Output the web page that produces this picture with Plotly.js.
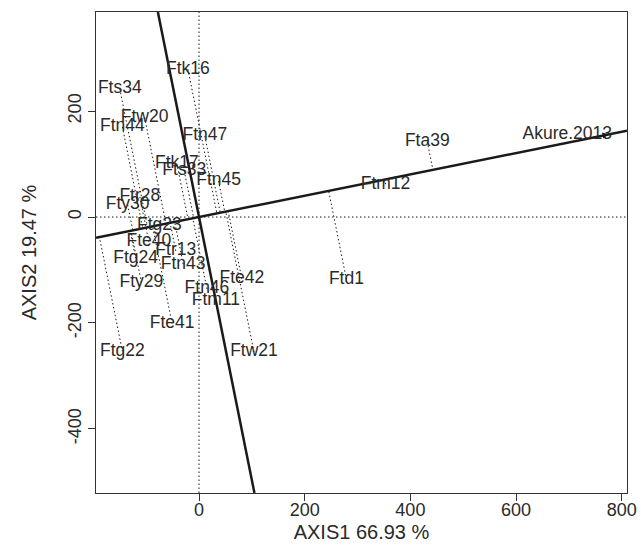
<!DOCTYPE html>
<html>
<head>
<meta charset="utf-8">
<script src="https://cdn.plot.ly/plotly-3.0.1.min.js"></script>
<style>html,body{margin:0;padding:0;background:#fff;}#chart{width:641px;height:545px;}</style>
</head>
<body>
<div id="chart"></div>
<script>
// Genotype labels and biplot coordinates
const genotypes = ['Ftk16','Fts34','Ftw20','Ftn44','Ftn47','Ftk17','Fts33','Ftn45','Ftr28','Fty30','Ftg23','Fte40','Ftr13','Ftg24','Ftn43','Fty29','Fte42','Ftn46','Ftm11','Fte41','Ftg22','Ftw21','Fta39','Ftm12','Ftd1'];
const axis1 = [-21, -150, -103, -145, 11, -42, -28, 37, -112, -135, -75, -95, -44, -120, -30, -109, 81, 15, 32, -51, -145, 104, 432, 353, 279];
const axis2 = [279, 242, 188, 170, 153, 101, 87, 68, 38, 23, -17, -47, -64, -78, -89, -124, -117, -136, -158, -201, -254, -255, 142, 62, -118];

// Environment
const envName = ['Akure.2013'];
const envAxis1 = [697];
const envAxis2 = [155];
// Average-environment axis end (arrow tip)
const aecAxis1 = [775];
const aecAxis2 = [156];

const xTicks = [0, 200, 400, 600, 800];
const yTicks = [-400, -200, 0, 200];
const xRange = [-195, 810];
const yRange = [-521, 387];

const slope = aecAxis2[0] / aecAxis1[0];
const ink = '#1a1a1a';
const font = 'Liberation Sans, Arial, sans-serif';
const traces = [];

// dotted reference lines through origin
traces.push({x: xRange, y: [0, 0], mode: 'lines', line: {color: ink, width: 1, dash: '1.5px,2.5px'}, hoverinfo: 'skip', showlegend: false});
traces.push({x: [0, 0], y: yRange, mode: 'lines', line: {color: ink, width: 1, dash: '1.5px,2.5px'}, hoverinfo: 'skip', showlegend: false});

// projections of genotypes onto the AEC abscissa
const px = [], py = [];
for (let i = 0; i < genotypes.length; i++) {
  const t = (axis1[i] + slope * axis2[i]) / (1 + slope * slope);
  px.push(axis1[i], t, null);
  py.push(axis2[i], t * slope, null);
}
traces.push({x: px, y: py, mode: 'lines', line: {color: ink, width: 1, dash: '1.5px,2.5px'}, hoverinfo: 'skip', showlegend: false, connectgaps: false});

// AEC abscissa
traces.push({x: xRange, y: [xRange[0] * slope, xRange[1] * slope], mode: 'lines', line: {color: ink, width: 2.5}, hoverinfo: 'skip', showlegend: false});
// AEC ordinate
traces.push({x: [-yRange[0] * slope, -yRange[1] * slope], y: yRange, mode: 'lines', line: {color: ink, width: 2.5}, hoverinfo: 'skip', showlegend: false});

// genotype labels
traces.push({x: axis1, y: axis2, text: genotypes, mode: 'text', textposition: 'middle center',
  textfont: {family: font, size: 17.5, color: '#2a2a2a'}, hoverinfo: 'text', showlegend: false});
// environment label
traces.push({x: envAxis1, y: envAxis2, text: envName, mode: 'text', textposition: 'middle center',
  textfont: {family: font, size: 17.5, color: '#2a2a2a'}, hoverinfo: 'text', showlegend: false});

const axisCommon = {
  showgrid: false, zeroline: false, showline: true, mirror: true, linecolor: '#333', linewidth: 1,
  ticks: 'outside', ticklen: 7, tickwidth: 1, tickcolor: '#333',
  tickfont: {family: font, size: 18, color: '#2a2a2a'}
};

const layout = {
  width: 641, height: 545,
  margin: {l: 96, r: 14, t: 12, b: 52},
  paper_bgcolor: '#fff', plot_bgcolor: '#fff',
  xaxis: Object.assign({}, axisCommon, {range: xRange, tickvals: xTicks, ticktext: xTicks.map(String), ticklabelstandoff: -7,
    title: {text: 'AXIS1 66.93 %', font: {family: font, size: 20, color: '#2a2a2a'}, standoff: 6}, automargin: false}),
  yaxis: Object.assign({}, axisCommon, {range: yRange, tickvals: yTicks, ticktext: yTicks.map(String), tickangle: -90,
    title: {text: 'AXIS2 19.47 %', font: {family: font, size: 20, color: '#2a2a2a'}, standoff: 22}, automargin: false}),
  annotations: [{x: aecAxis1[0], y: aecAxis2[0], ax: aecAxis1[0] - 30, ay: aecAxis2[0] - 30 * slope, axref: 'x', ayref: 'y', xref: 'x', yref: 'y',
    showarrow: true, arrowhead: 2, arrowsize: 1, arrowwidth: 1.2, arrowcolor: ink, text: ''}],
  showlegend: false
};

Plotly.newPlot('chart', traces, layout, {displayModeBar: false, staticPlot: true});
</script>
</body>
</html>
